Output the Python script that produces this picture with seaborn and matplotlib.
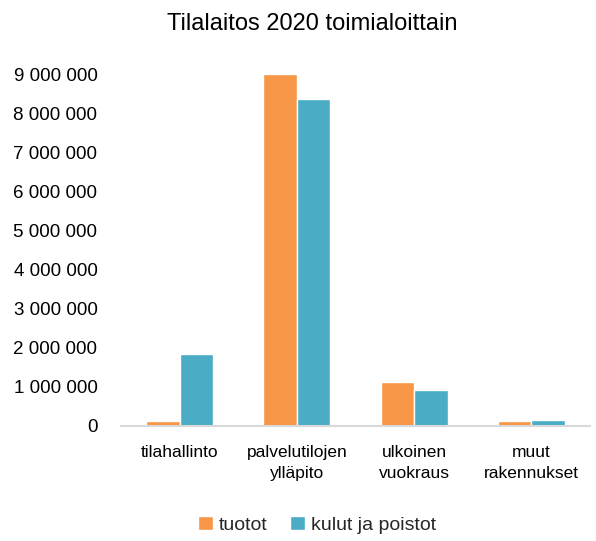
import matplotlib
matplotlib.use("Agg")
import matplotlib.pyplot as plt
import seaborn as sns
import pandas as pd
from matplotlib.ticker import FuncFormatter

categories = ["tilahallinto", "palvelutilojen\nylläpito", "ulkoinen\nvuokraus", "muut\nrakennukset"]
series_names = ["tuotot", "kulut ja poistot"]
tuotot = [130000, 9000000, 1130000, 120000]
kulut = [1840000, 8360000, 910000, 160000]
y_ticks = [0, 1000000, 2000000, 3000000, 4000000, 5000000, 6000000, 7000000, 8000000, 9000000]

sns.set_theme(style="white")
plt.rcParams['font.family'] = ['Liberation Sans', 'DejaVu Sans']

df = pd.DataFrame({
    "kategoria": categories * 2,
    "sarja": [series_names[0]] * 4 + [series_names[1]] * 4,
    "arvo": tuotot + kulut,
})

fig = plt.figure(figsize=(5.96, 5.41), dpi=100)
ax = fig.add_axes([0.203, 0.2126, 0.787, 0.6505])
sns.barplot(data=df, x="kategoria", y="arvo", hue="sarja",
            palette=["#F79646", "#4BACC6"], width=0.57, ax=ax,
            saturation=1, errorbar=None)

ax.set_ylim(0, 9000000)
ax.set_yticks(y_ticks)
ax.yaxis.set_major_formatter(FuncFormatter(lambda v, p: f"{int(v):,}".replace(",", " ")))
ax.set_xlabel("")
ax.set_ylabel("")
for s in ["top", "right", "left"]:
    ax.spines[s].set_visible(False)
ax.spines["bottom"].set_color("#D9D9D9")
ax.spines["bottom"].set_linewidth(1.5)
ax.tick_params(axis="y", labelsize=13.5, length=0, pad=17, colors="black")
ax.tick_params(axis="x", labelsize=12.5, length=0, pad=14, colors="black")
for lbl in ax.get_xticklabels():
    lbl.set_linespacing(1.45)

fig.text(312 / 596, 1 - 24 / 541, "Tilalaitos 2020 toimialoittain", fontsize=17,
         ha="center", va="center", color="black")

ax.legend(loc="center", bbox_to_anchor=(317 / 596, 1 - 525 / 541), bbox_transform=fig.transFigure,
          ncol=2, frameon=False,
          fontsize=14, handlelength=0.75, handleheight=0.75, handletextpad=0.3,
          columnspacing=1.2)

fig.savefig("out.png", dpi=100)
